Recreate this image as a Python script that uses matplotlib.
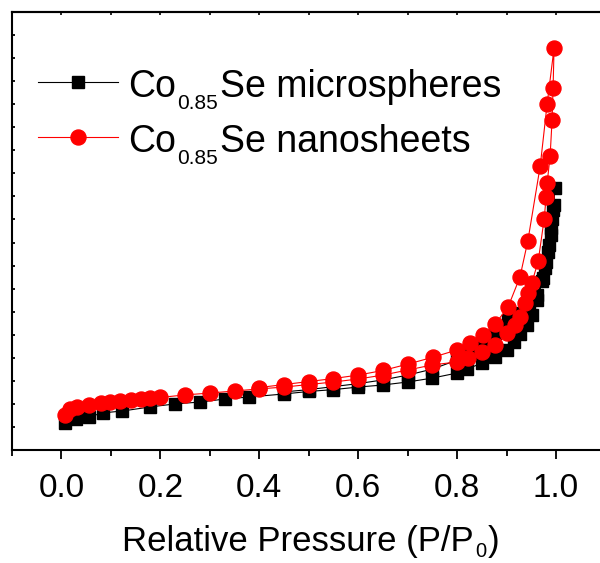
import matplotlib
matplotlib.use("Agg")
import matplotlib.pyplot as plt
from matplotlib.lines import Line2D
import numpy as np

plt.rcParams['font.family'] = ['Liberation Sans', 'DejaVu Sans']
REG = ['Liberation Sans', 'DejaVu Sans']

# ---- data (relative pressure, quantity adsorbed, arbitrary units) ----
micro_ads_p = [0.008, 0.03, 0.055, 0.083, 0.123, 0.18, 0.23, 0.28, 0.33, 0.38, 0.45, 0.50, 0.55,
               0.60, 0.65, 0.70, 0.75, 0.80, 0.82, 0.85, 0.877, 0.90, 0.915, 0.927, 0.941,
               0.951, 0.962, 0.972, 0.978, 0.984, 0.989, 0.992, 0.995, 0.998]
micro_ads_v = [11.7, 13.4, 14.3, 16.1, 16.9, 18.7, 20.0, 20.8, 22.1, 23.0, 24.3, 25.4, 26.2,
               27.3, 28.2, 29.5, 31.2, 33.4, 35.1, 37.7, 40.3, 43.4, 46.9, 50.3, 54.2,
               58.6, 65.1, 73.3, 79.0, 85.9, 93.3, 100.2, 106.3, 113.7]
micro_des_p = [0.994, 0.990, 0.986, 0.980, 0.974, 0.962, 0.945, 0.925, 0.903, 0.877, 0.851,
               0.822, 0.80, 0.75, 0.70, 0.65, 0.60, 0.55, 0.50, 0.45]
micro_des_v = [104.1, 96.3, 88.9, 81.6, 74.6, 67.2, 62.9, 59.4, 56.4, 50.8, 45.5,
               42.1, 39.0, 35.1, 32.5, 30.4, 28.8, 27.5, 26.2, 25.2]

nano_ads_p = [0.008, 0.018, 0.032, 0.055, 0.079, 0.099, 0.119, 0.141, 0.160, 0.180, 0.200,
              0.25, 0.30, 0.35, 0.40, 0.45, 0.50, 0.55, 0.60, 0.65, 0.70, 0.75, 0.80,
              0.822, 0.851, 0.877, 0.901, 0.917, 0.927, 0.937, 0.943, 0.951, 0.964,
              0.976, 0.980, 0.982, 0.988, 0.992, 0.994, 0.996]
nano_ads_v = [15.2, 17.8, 18.7, 19.5, 20.4, 20.8, 21.3, 21.7, 22.1, 22.6, 22.8,
              23.9, 24.7, 25.6, 26.5, 27.3, 28.4, 29.5, 30.8, 32.5, 34.7, 36.9, 38.2,
              39.9, 42.5, 45.5, 50.8, 54.2, 57.7, 63.8, 68.1, 72.4, 82.0,
              100.2, 109.8, 115.8, 127.5, 143.2, 157.0, 174.4]
nano_des_p = [0.982, 0.968, 0.943, 0.927, 0.903, 0.877, 0.853, 0.826, 0.800, 0.752, 0.701,
              0.650, 0.600, 0.550, 0.500, 0.450, 0.400]
nano_des_v = [150.1, 123.2, 90.7, 75.0, 62.0, 54.7, 49.9, 46.4, 43.4, 40.3, 37.3,
              34.5, 32.5, 31.0, 29.7, 28.4, 27.1]

x_ticks = [0.0, 0.2, 0.4, 0.6, 0.8, 1.0]
x_tick_labels = ["0.0", "0.2", "0.4", "0.6", "0.8", "1.0"]
formula_parts = ("Co", "0.85", "Se")
series_names = ["microspheres", "nanosheets"]
x_label_parts = ("Relative Pressure (P/P", "0", ")")

W, H = 600, 563

def fx(px):
    return px / W

def fy(py):
    return 1 - py / H

# ---- figure ----
fig = plt.figure(figsize=(W / 100, H / 100), dpi=100)
ax = fig.add_axes([fx(12), fy(450), (605.5 - 12) / W, (450 - 12) / H])

l_micro, = ax.plot(micro_ads_p + micro_des_p, micro_ads_v + micro_des_v, color='black', lw=0.8,
                   marker='s', ms=8.6, mec='black', mfc='black', zorder=2)
l_nano, = ax.plot(nano_ads_p + nano_des_p, nano_ads_v + nano_des_v, color='red', lw=0.8,
                  marker='o', ms=10.8, mec='red', mfc='red', zorder=3)

ax.set_xlim(-0.1, 1.1)
ax.set_ylim(0, 190)
ax.set_xticks(x_ticks)
ax.set_xticklabels(x_tick_labels)
ax.set_xticks(np.arange(-0.1, 1.15, 0.2), minor=True)
ax.set_yticks(np.arange(0, 191, 10))
ax.set_yticklabels([])
ax.tick_params(axis='x', which='major', direction='out', length=6.5, width=1.3,
               labelsize=24, pad=10, top=False)
ax.tick_params(axis='x', which='minor', direction='out', length=4.2, width=1.3, top=False)
ax.tick_params(axis='y', which='major', direction='in', length=2.5, width=1.3, right=False)
for s in ['left', 'bottom', 'top', 'right']:
    ax.spines[s].set_linewidth(1.5)

sec = ax.secondary_xaxis('top')
sec.set_xticks(x_ticks)
sec.set_xticks(np.arange(-0.1, 1.15, 0.2), minor=True)
sec.tick_params(axis='x', which='both', direction='in', length=2.5, width=1.2, labeltop=False)
sec.spines['top'].set_linewidth(1.5)

# ---- x label (main text + subscript) ----
xl1 = fig.text(fx(122), fy(551), x_label_parts[0], fontsize=25, family=REG, va='baseline')
xl2 = ax.annotate(x_label_parts[1], xy=(1, fy(557)), xycoords=(xl1, 'figure fraction'),
                  xytext=(1, 0), textcoords='offset points',
                  fontsize=14.5, family=REG, va='baseline', ha='left', annotation_clip=False)
xl3 = ax.annotate(x_label_parts[2], xy=(1, fy(551)), xycoords=(xl2, 'figure fraction'),
                  xytext=(1, 0), textcoords='offset points',
                  fontsize=25, family=REG, va='baseline', ha='left', annotation_clip=False)

# ---- legend: handles + chemical-formula labels ----
rows = [(l_micro, series_names[0], 82, 97, 109), (l_nano, series_names[1], 137, 152, 164)]
for handle, name, y_row, y_base, y_sub in rows:
    h = Line2D([], [], color=handle.get_color(), lw=0.8, marker=handle.get_marker(),
               ms=handle.get_markersize(), mfc=handle.get_color(), mec=handle.get_color())
    lg = fig.legend([h], [''], loc='center left', bbox_to_anchor=(fx(38), fy(y_row + 3)),
                    frameon=False, fontsize=20, handlelength=80 / 27.8, handletextpad=0,
                    borderpad=0, borderaxespad=0)
    t1 = fig.text(fx(128), fy(y_base), formula_parts[0], fontsize=27, family=REG,
                  va='baseline')
    t2 = ax.annotate(formula_parts[1], xy=(1, fy(y_sub)), xycoords=(t1, 'figure fraction'),
                     xytext=(1, 0), textcoords='offset points', fontsize=15, family=REG,
                     va='baseline', ha='left', annotation_clip=False)
    t3 = ax.annotate(formula_parts[2] + " " + name, xy=(1, fy(y_base)),
                     xycoords=(t2, 'figure fraction'), xytext=(1.5, 0),
                     textcoords='offset points', fontsize=27, family=REG,
                     va='baseline', ha='left', annotation_clip=False)

fig.savefig("out.png", dpi=100)
